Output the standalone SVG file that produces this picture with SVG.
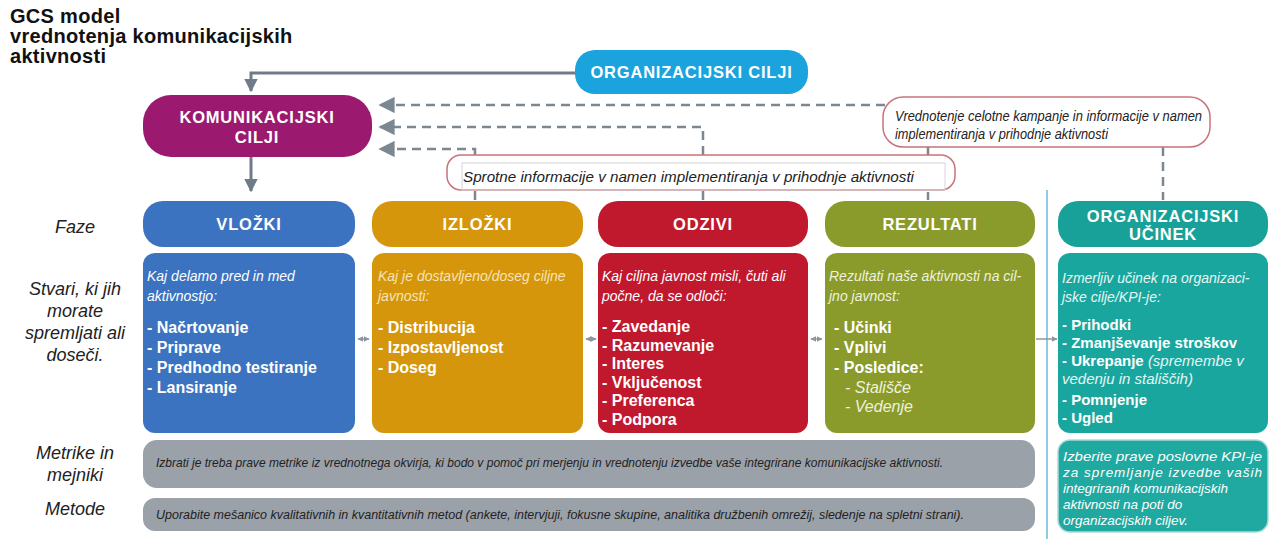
<svg xmlns="http://www.w3.org/2000/svg" width="1273" height="539" viewBox="0 0 1273 539">
  <style>
    .title { font-family: "Liberation Sans", Arial, sans-serif; font-weight: bold; font-size: 20px; fill: #111; letter-spacing: 0.3px; }
    .side { font-family: "Liberation Sans", Arial, sans-serif; font-style: italic; font-size: 18px; fill: #222; text-anchor: middle; }
    .head { font-family: "Liberation Sans", Arial, sans-serif; font-weight: bold; font-size: 16.5px; fill: #fff; text-anchor: middle; letter-spacing: 0.8px; }
    .intro { font-family: "Liberation Sans", Arial, sans-serif; font-style: italic; font-size: 14px; fill: #fff; }
    .item { font-family: "Liberation Sans", Arial, sans-serif; font-weight: bold; font-size: 16px; fill: #fff; }
    .sub { font-family: "Liberation Sans", Arial, sans-serif; font-style: italic; font-size: 16px; fill: #eef2dc; }
    .note { font-family: "Liberation Sans", Arial, sans-serif; font-style: italic; fill: #222; }
    .kpi { font-family: "Liberation Sans", Arial, sans-serif; font-style: italic; font-size: 13.5px; fill: #fff; }
    .bar { fill: #9aa1a9; }
    .dash { fill: none; stroke: #7b8791; stroke-width: 2.5; stroke-dasharray: 9 6; }
    .solid { fill: none; stroke: #6f7c87; stroke-width: 3; }
    .thin { fill: none; stroke: #8d969e; stroke-width: 1.5; }
    .callout { fill: #fff; stroke: #c9737b; stroke-width: 1.5; }
  </style>
  <defs>
    <marker id="tri" viewBox="0 0 10 10" refX="9" refY="5" markerWidth="4.5" markerHeight="4.5" markerUnits="strokeWidth" orient="auto-start-reverse">
      <path d="M0,0 L10,5 L0,10 z" fill="#6f7c87"/>
    </marker>
    <marker id="triD" viewBox="0 0 10 10" refX="9" refY="5" markerWidth="6.5" markerHeight="6.5" markerUnits="strokeWidth" orient="auto-start-reverse">
      <path d="M0,0 L10,5 L0,10 z" fill="#7b8791"/>
    </marker>
    <marker id="tiny" viewBox="0 0 10 10" refX="9" refY="5" markerWidth="4" markerHeight="4" markerUnits="strokeWidth" orient="auto-start-reverse">
      <path d="M0,0 L10,5 L0,10 z" fill="#8d969e"/>
    </marker>
  </defs>

  <rect width="1273" height="539" fill="#fff"/>

  <!-- title -->
  <g id="title">
    <text class="title" x="10" y="23">GCS model</text>
    <text class="title" x="10" y="43">vrednotenja komunikacijskih</text>
    <text class="title" x="10" y="63">aktivnosti</text>
  </g>

  <!-- row labels -->
  <g id="row-labels">
    <text class="side" x="75" y="233">Faze</text>
    <text class="side" x="75" y="295">Stvari, ki jih</text>
    <text class="side" x="75" y="317">morate</text>
    <text class="side" x="75" y="339">spremljati ali</text>
    <text class="side" x="75" y="361">doseči.</text>
    <text class="side" x="75" y="459">Metrike in</text>
    <text class="side" x="75" y="481">mejniki</text>
    <text class="side" x="75" y="515">Metode</text>
  </g>

  <!-- divider before organisational impact column -->
  <line x1="1047" y1="190" x2="1047" y2="539" stroke="#8fcbe5" stroke-width="2"/>

  <!-- connectors -->
  <g id="connectors">
    <path class="solid" d="M575,73 H251 V91" marker-end="url(#tri)"/>
    <path class="solid" d="M251,157 V191" marker-end="url(#tri)"/>
    <path class="dash" d="M885,105 H380" marker-end="url(#triD)"/>
    <path class="dash" d="M703,200 V127 H380" marker-end="url(#triD)"/>
    <path class="dash" d="M475,200 V149 H380" marker-end="url(#triD)"/>
    <path class="dash" d="M928,147 V200"/>
    <path class="dash" d="M1163,147 V200"/>
    <path class="thin" d="M358,339 H369" marker-start="url(#tiny)" marker-end="url(#tiny)"/>
    <path class="thin" d="M586,339 H596" marker-start="url(#tiny)" marker-end="url(#tiny)"/>
    <path class="thin" d="M811,339 H822" marker-start="url(#tiny)" marker-end="url(#tiny)"/>
    <path class="thin" d="M1036,339 H1057" marker-end="url(#tiny)"/>
  </g>

  <!-- organisational goals -->
  <g id="org-cilji">
    <rect x="575" y="50" width="233" height="44" rx="20" fill="#1aa3dc"/>
    <text class="head" x="691.5" y="78" font-size="17">ORGANIZACIJSKI CILJI</text>
  </g>

  <!-- communication goals -->
  <g id="kom-cilji">
    <rect x="143" y="95" width="229" height="62" rx="28" fill="#9b1a6f"/>
    <text class="head" x="257" y="123">KOMUNIKACIJSKI</text>
    <text class="head" x="257" y="143">CILJI</text>
  </g>

  <!-- feedback callouts -->
  <g id="sprotne">
    <rect class="callout" x="447" y="155" width="508" height="35" rx="14"/>
    <rect x="462" y="163" width="483" height="27" fill="none" stroke="#d6d6d6" stroke-width="1"/>
    <text class="note" x="463" y="182" font-size="15.5" textLength="451" lengthAdjust="spacingAndGlyphs">Sprotne informacije v namen implementiranja v prihodnje aktivnosti</text>
  </g>
  <g id="vrednotenje">
    <rect class="callout" x="883" y="97" width="327" height="50" rx="20"/>
    <text class="note" x="895" y="121" font-size="14" textLength="307" lengthAdjust="spacingAndGlyphs">Vrednotenje celotne kampanje in informacije v namen</text>
    <text class="note" x="895" y="139" font-size="14" textLength="213" lengthAdjust="spacingAndGlyphs">implementiranja v prihodnje aktivnosti</text>
  </g>

  <!-- phase: inputs -->
  <g id="vlozki">
    <rect x="143" y="201" width="212" height="46" rx="20" fill="#3b73c1"/>
    <text class="head" x="249" y="230">VLOŽKI</text>
    <rect x="143" y="253" width="212" height="180" rx="12" fill="#3b73c1"/>
    <text class="intro" x="147" y="281">Kaj delamo pred in med</text>
    <text class="intro" x="147" y="301">aktivnostjo:</text>
    <text class="item" x="147" y="333">- Načrtovanje</text>
    <text class="item" x="147" y="353">- Priprave</text>
    <text class="item" x="147" y="373">- Predhodno testiranje</text>
    <text class="item" x="147" y="393">- Lansiranje</text>
  </g>

  <!-- phase: outputs -->
  <g id="izlozki">
    <rect x="372" y="201" width="211" height="46" rx="20" fill="#d5960b"/>
    <text class="head" x="477.5" y="230">IZLOŽKI</text>
    <rect x="372" y="253" width="211" height="180" rx="12" fill="#d5960b"/>
    <text class="intro" x="378" y="281" style="fill:#f6e4b4">Kaj je dostavljeno/doseg ciljne</text>
    <text class="intro" x="378" y="301" style="fill:#f6e4b4">javnosti:</text>
    <text class="item" x="378" y="333">- Distribucija</text>
    <text class="item" x="378" y="353">- Izpostavljenost</text>
    <text class="item" x="378" y="373">- Doseg</text>
  </g>

  <!-- phase: responses -->
  <g id="odzivi">
    <rect x="598" y="201" width="210" height="46" rx="20" fill="#c0192d"/>
    <text class="head" x="703" y="230">ODZIVI</text>
    <rect x="598" y="253" width="210" height="180" rx="12" fill="#c0192d"/>
    <text class="intro" x="602" y="281">Kaj ciljna javnost misli, čuti ali</text>
    <text class="intro" x="602" y="301">počne, da se odloči:</text>
    <text class="item" x="602" y="332">- Zavedanje</text>
    <text class="item" x="602" y="350.5">- Razumevanje</text>
    <text class="item" x="602" y="369">- Interes</text>
    <text class="item" x="602" y="387.5">- Vključenost</text>
    <text class="item" x="602" y="406">- Preferenca</text>
    <text class="item" x="602" y="424.5">- Podpora</text>
  </g>

  <!-- phase: outcomes -->
  <g id="rezultati">
    <rect x="825" y="201" width="210" height="46" rx="20" fill="#8b9b2b"/>
    <text class="head" x="930" y="230">REZULTATI</text>
    <rect x="825" y="253" width="210" height="180" rx="12" fill="#8b9b2b"/>
    <text class="intro" x="829" y="281" style="fill:#eef2dc">Rezultati naše aktivnosti na cil-</text>
    <text class="intro" x="829" y="301" style="fill:#eef2dc">jno javnost:</text>
    <text class="item" x="834" y="333">- Učinki</text>
    <text class="item" x="834" y="353">- Vplivi</text>
    <text class="item" x="834" y="373">- Posledice:</text>
    <text class="sub" x="845" y="393">- Stališče</text>
    <text class="sub" x="845" y="412">- Vedenje</text>
  </g>

  <!-- organisational impact -->
  <g id="org-ucinek">
    <rect x="1058" y="201" width="210" height="46" rx="20" fill="#17a198"/>
    <text class="head" x="1163" y="222">ORGANIZACIJSKI</text>
    <text class="head" x="1163" y="240">UČINEK</text>
    <rect x="1058" y="253" width="210" height="180" rx="12" fill="#19a69e"/>
    <text class="intro" x="1062" y="283" style="fill:#e6f6f4">Izmerljiv učinek na organizaci-</text>
    <text class="intro" x="1062" y="302" style="fill:#e6f6f4">jske cilje/KPI-je:</text>
    <text class="item" x="1062" y="330" style="font-size:15px">- Prihodki</text>
    <text class="item" x="1062" y="348" style="font-size:15px">- Zmanjševanje stroškov</text>
    <text class="item" x="1062" y="366" style="font-size:15px">- Ukrepanje <tspan font-style="italic" font-weight="normal" fill="#e6f6f4">(spremembe v</tspan></text>
    <text class="intro" x="1062" y="384" style="font-size:15px;fill:#e6f6f4">vedenju in stališčih)</text>
    <text class="item" x="1062" y="405" style="font-size:15px">- Pomnjenje</text>
    <text class="item" x="1062" y="423" style="font-size:15px">- Ugled</text>
  </g>

  <!-- metrics row -->
  <g id="metrike">
    <rect class="bar" x="143" y="440" width="892" height="48" rx="14"/>
    <text class="note" x="156" y="467" font-size="13" textLength="787" lengthAdjust="spacingAndGlyphs">Izbrati je treba prave metrike iz vrednotnega okvirja, ki bodo v pomoč pri merjenju in vrednotenju izvedbe vaše integrirane komunikacijske aktivnosti.</text>
  </g>

  <!-- methods row -->
  <g id="metode">
    <rect class="bar" x="143" y="498" width="892" height="33" rx="12"/>
    <text class="note" x="156" y="519" font-size="12.5" textLength="808" lengthAdjust="spacingAndGlyphs">Uporabite mešanico kvalitativnih in kvantitativnih metod (ankete, intervjuji, fokusne skupine, analitika družbenih omrežij, sledenje na spletni strani).</text>
  </g>

  <!-- KPI note -->
  <g id="kpi">
    <rect x="1058" y="440" width="210" height="92" rx="12" fill="#1fa9a1" stroke="#a9dcd8" stroke-width="1.5"/>
    <text class="kpi" x="1063" y="461" textLength="199" lengthAdjust="spacingAndGlyphs">Izberite prave poslovne KPI-je</text>
    <text class="kpi" x="1063" y="477" textLength="199" lengthAdjust="spacing">za spremljanje izvedbe vaših</text>
    <text class="kpi" x="1063" y="493">integriranih komunikacijskih</text>
    <text class="kpi" x="1063" y="509">aktivnosti na poti do</text>
    <text class="kpi" x="1063" y="525"> organizacijskih ciljev.</text>
  </g>
</svg>
